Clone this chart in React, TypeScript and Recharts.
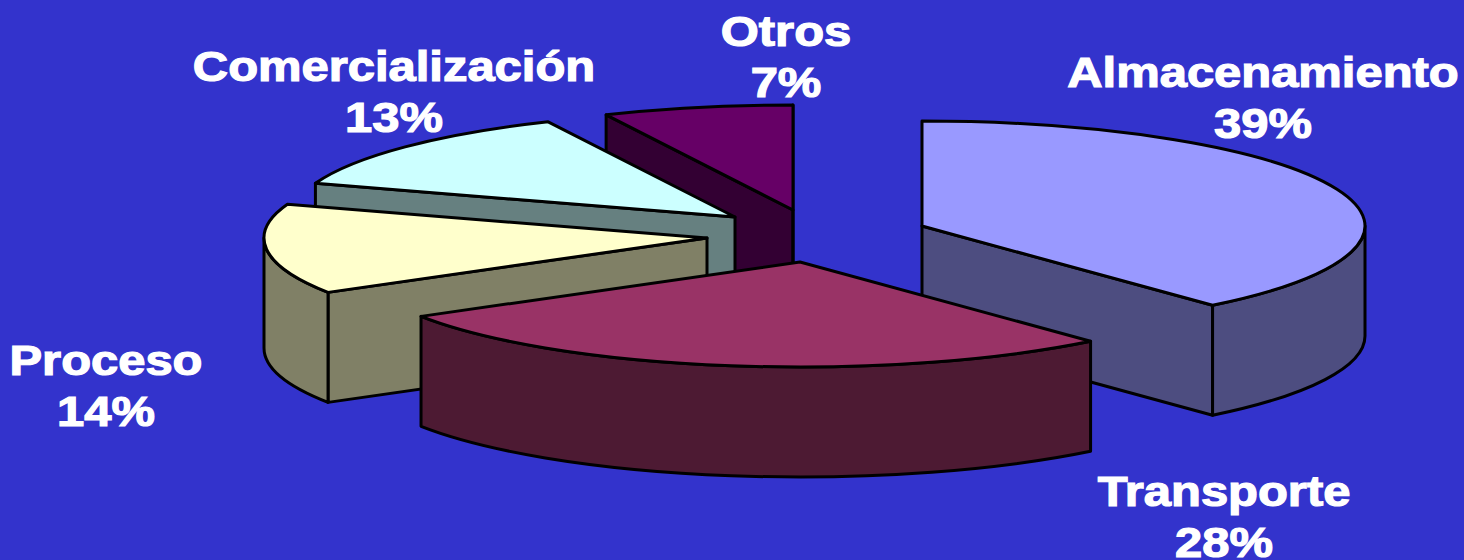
import { Pie, PieChart } from "recharts";

// painted in this order, so Transporte ends up on top
const categories = ["Almacenamiento", "Otros", "Comercialización", "Proceso", "Transporte"];
const shares = [39, 7, 13, 14, 28];
const topColors = ["#9999ff", "#660066", "#ccffff", "#ffffcc", "#993366"];
const sideColors = ["#4d4d80", "#330033", "#668080", "#808066", "#4d1a33"];

// apex of every exploded slice, relative to the pie centre
const explode = [
  { x: 122, y: -36 },
  { x: -7, y: -52 },
  { x: -65, y: -45 },
  { x: -93, y: -24 },
  { x: 0, y: 0 },
];
const labelSpots = [
  { x: 1263, y: 87 },
  { x: 786, y: 46 },
  { x: 394, y: 81 },
  { x: 106, y: 375 },
  { x: 1224, y: 506 },
];

const data = categories.map((name, i) => ({
  name,
  value: shares[i],
  fill: topColors[i],
  side: sideColors[i],
  index: i,
}));

const CX = 800;
const CY = 262;
const RX = 443;
const RY = 105;
const DEPTH = 110;
const LINE_GAP = 51;

function SliceShape(props: any) {
  const { startAngle, endAngle, payload, fill } = props;
  const row = payload?.payload ?? payload;
  const off = explode[row.index];
  const ax = CX + off.x;
  const ay = CY + off.y;
  const lo = Math.min(startAngle, endAngle);
  const hi = Math.max(startAngle, endAngle);

  const pt = (deg: number, drop = 0) => {
    const rad = (deg * Math.PI) / 180;
    return `${ax + RX * Math.cos(rad)} ${ay - RY * Math.sin(rad) + drop}`;
  };
  const wall = (deg: number) =>
    `M${pt(deg)} L${ax} ${ay} L${ax} ${ay + DEPTH} L${pt(deg, DEPTH)} Z`;
  const cosOf = (deg: number) => Math.cos((deg * Math.PI) / 180);

  // only the cut faces turned towards the viewer get drawn
  const walls: string[] = [];
  if (cosOf(hi) < 1e-6) walls.push(wall(hi));
  if (cosOf(lo) > -1e-6) walls.push(wall(lo));

  // outer rim only shows on the front half of the ellipse
  const rims: string[] = [];
  [
    [-180, 0],
    [180, 360],
  ].forEach(([a, b]) => {
    const from = Math.max(lo, a);
    const to = Math.min(hi, b);
    if (to > from) {
      rims.push(
        `M${pt(from)} A${RX} ${RY} 0 0 0 ${pt(to)} L${pt(to, DEPTH)} A${RX} ${RY} 0 0 1 ${pt(from, DEPTH)} Z`
      );
    }
  });

  const stroke = { stroke: "#000", strokeWidth: 3, strokeLinejoin: "round" as const };
  return (
    <g>
      {walls.concat(rims).map((d) => (
        <path key={d} d={d} fill={row.side} {...stroke} />
      ))}
      <path
        d={`M${ax} ${ay} L${pt(lo)} A${RX} ${RY} 0 0 0 ${pt(hi)} Z`}
        fill={fill}
        {...stroke}
      />
    </g>
  );
}

function SliceLabel(props: any) {
  const { index, name, value } = props;
  const spot = labelSpots[index];
  const common = {
    fill: "#fff",
    stroke: "#fff",
    strokeWidth: 1.2,
    fontFamily: "'Liberation Sans', Arial, sans-serif",
    fontWeight: 700,
    fontSize: 42,
    textAnchor: "middle" as const,
  };
  return (
    <g>
      <text {...common} transform={`translate(${spot.x} ${spot.y}) scale(1.165 1)`}>
        {name}
      </text>
      <text {...common} transform={`translate(${spot.x} ${spot.y + LINE_GAP}) scale(1.165 1)`}>
        {value}%
      </text>
    </g>
  );
}

export default function App() {
  return (
    <div style={{ position: "fixed", left: 0, top: 0, width: 1464, height: 560, background: "#3333cc" }}>
      <PieChart width={1464} height={560}>
        <Pie
          data={data}
          dataKey="value"
          nameKey="name"
          cx={CX}
          cy={CY}
          outerRadius={RX}
          startAngle={-49.01}
          endAngle={310.99}
          paddingAngle={0}
          shape={SliceShape}
          label={SliceLabel}
          labelLine={false}
          isAnimationActive={false}
        />
      </PieChart>
    </div>
  );
}
